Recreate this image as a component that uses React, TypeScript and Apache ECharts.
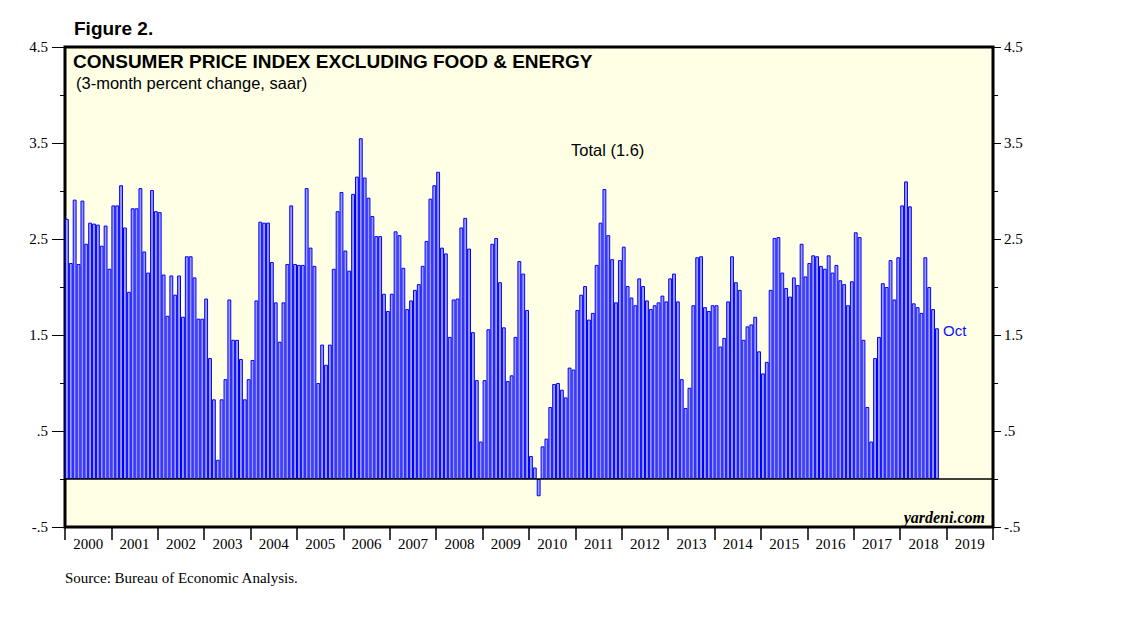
import React, { useEffect, useRef } from "react";
import * as echarts from "echarts";

const years = ["2000","2001","2002","2003","2004","2005","2006","2007","2008","2009","2010","2011","2012","2013","2014","2015","2016","2017","2018","2019"];

const v2000 = [2.71, 2.25, 2.91, 2.24, 2.90, 2.45, 2.67, 2.66, 2.65, 2.43, 2.64, 2.19];
const v2001 = [2.85, 2.85, 3.06, 2.62, 1.95, 2.82, 2.82, 3.03, 2.37, 2.15, 3.01, 2.79];
const v2002 = [2.78, 2.13, 1.70, 2.12, 1.92, 2.12, 1.69, 2.32, 2.32, 2.10, 1.67, 1.67];
const v2003 = [1.88, 1.26, 0.83, 0.20, 0.83, 1.04, 1.87, 1.45, 1.45, 1.25, 0.83, 1.04];
const v2004 = [1.24, 1.86, 2.68, 2.67, 2.67, 2.26, 1.84, 1.43, 1.84, 2.24, 2.85, 2.24];
const v2005 = [2.23, 2.23, 3.03, 2.41, 2.22, 1.00, 1.40, 1.19, 1.40, 2.19, 2.79, 2.99];
const v2006 = [2.38, 2.17, 2.97, 3.15, 3.55, 3.14, 2.93, 2.74, 2.53, 2.53, 1.93, 1.75];
const v2007 = [1.93, 2.58, 2.54, 2.20, 1.77, 1.86, 1.97, 2.03, 2.22, 2.48, 2.92, 3.06];
const v2008 = [3.20, 2.41, 2.35, 1.48, 1.87, 1.88, 2.62, 2.72, 2.40, 1.53, 1.03, 0.39];
const v2009 = [1.03, 1.56, 2.45, 2.51, 2.05, 1.58, 1.02, 1.08, 1.48, 2.27, 2.14, 1.76];
const v2010 = [0.24, 0.12, -0.18, 0.34, 0.42, 0.75, 0.99, 1.00, 0.93, 0.85, 1.16, 1.14];
const v2011 = [1.76, 1.92, 2.01, 1.66, 1.73, 2.23, 2.67, 3.02, 2.54, 2.29, 1.84, 2.28];
const v2012 = [2.42, 2.01, 1.89, 1.81, 2.09, 2.01, 1.86, 1.77, 1.81, 1.84, 1.91, 1.85];
const v2013 = [2.09, 2.14, 1.85, 1.04, 0.74, 0.95, 1.81, 2.31, 2.32, 1.79, 1.75, 1.81];
const v2014 = [1.81, 1.38, 1.47, 1.85, 2.32, 2.05, 1.97, 1.45, 1.59, 1.61, 1.69, 1.33];
const v2015 = [1.10, 1.22, 1.97, 2.51, 2.52, 2.15, 1.99, 1.90, 2.10, 2.02, 2.45, 2.11];
const v2016 = [2.25, 2.33, 2.32, 2.22, 2.19, 2.33, 2.15, 2.23, 2.07, 2.03, 1.81, 2.06];
const v2017 = [2.57, 2.52, 1.45, 0.75, 0.39, 1.26, 1.48, 2.04, 2.00, 2.28, 1.87, 2.31];
const v2018 = [2.85, 3.10, 2.84, 1.83, 1.79, 1.73, 2.31, 2.00, 1.77, 1.57];

const yLabelValues = [-0.5, 0.5, 1.5, 2.5, 3.5, 4.5];

const SANS = "'Liberation Sans', Arial, sans-serif";
const SERIF = "'Liberation Serif', 'Times New Roman', serif";

export default function App() {
  const ref = useRef<HTMLDivElement>(null);
  useEffect(() => {
    if (!ref.current) return;
    const chart = echarts.init(ref.current, undefined, { renderer: "svg" });
    const months: string[] = [];
    years.forEach((y) => {
      for (let m = 1; m <= 12; m++) months.push(y + "-" + m);
    });
    const values = [
      ...v2000, ...v2001, ...v2002, ...v2003, ...v2004, ...v2005, ...v2006,
      ...v2007, ...v2008, ...v2009, ...v2010, ...v2011, ...v2012, ...v2013,
      ...v2014, ...v2015, ...v2016, ...v2017, ...v2018,
    ];
    const fmt = (v: number) => {
      if (Math.abs(v - 0.5) < 1e-6) return ".5";
      if (Math.abs(v + 0.5) < 1e-6) return "-.5";
      return v.toFixed(1);
    };
    const baseY = {
      type: "value" as const,
      min: -0.5,
      max: 4.5,
      interval: 0.5,
      splitLine: { show: false },
      axisLine: { show: false },
    };
    chart.setOption({
      animation: false,
      backgroundColor: "#ffffff",
      grid: {
        left: 65,
        right: 145,
        top: 47,
        bottom: 94,
        show: true,
        backgroundColor: "#FFFFE6",
        borderColor: "#000000",
        borderWidth: 3,
        z: 0,
      },
      xAxis: [
        {
          type: "category",
          data: months,
          show: false,
          boundaryGap: true,
        },
        {
          type: "category",
          data: years,
          position: "bottom",
          boundaryGap: true,
          axisLine: { show: false, onZero: false },
          axisTick: { show: true, length: 13, lineStyle: { color: "#000", width: 1.5 }, interval: 0 },
          axisLabel: {
            interval: 0,
            margin: 9,
            color: "#000",
            fontFamily: SERIF,
            fontSize: 15,
          },
          splitLine: { show: false },
        },
      ],
      yAxis: [
        {
          ...baseY,
          position: "left",
          axisTick: { show: true, length: 5, lineStyle: { color: "#000", width: 1 } },
          axisLabel: { show: false },
        },
        {
          ...baseY,
          position: "left",
          axisTick: { show: true, length: 13, customValues: yLabelValues, lineStyle: { color: "#000", width: 1 } },
          axisLabel: {
            show: true,
            customValues: yLabelValues,
            formatter: fmt,
            margin: 17,
            color: "#000",
            fontFamily: SERIF,
            fontSize: 15,
          },
        },
        {
          ...baseY,
          position: "right",
          axisTick: { show: true, length: 5, lineStyle: { color: "#000", width: 1 } },
          axisLabel: { show: false },
        },
        {
          ...baseY,
          position: "right",
          axisTick: { show: true, length: 8, customValues: yLabelValues, lineStyle: { color: "#000", width: 1 } },
          axisLabel: {
            show: true,
            customValues: yLabelValues,
            formatter: fmt,
            margin: 11,
            color: "#000",
            fontFamily: SERIF,
            fontSize: 15,
          },
        },
      ],
      series: [
        {
          type: "bar",
          xAxisIndex: 0,
          yAxisIndex: 0,
          data: values,
          barCategoryGap: "0%",
          itemStyle: { color: "#9C9CFF", borderColor: "#0000FF", borderWidth: 1 },
          markLine: {
            silent: true,
            symbol: "none",
            label: { show: false },
            lineStyle: { color: "#000", width: 1.5, type: "solid" },
            data: [{ yAxis: 0 }],
          },
        },
      ],
      graphic: [
        {
          type: "text",
          x: 74,
          y: 28,
          style: { text: "Figure 2.", fontFamily: SANS, fontWeight: "bold", fontSize: 19, fill: "#000", textAlign: "left", textVerticalAlign: "middle" },
        },
        {
          type: "text",
          x: 73,
          y: 61,
          style: { text: "CONSUMER PRICE INDEX EXCLUDING FOOD & ENERGY", fontFamily: SANS, fontWeight: "bold", fontSize: 19, fill: "#000", textAlign: "left", textVerticalAlign: "middle" },
        },
        {
          type: "text",
          x: 76,
          y: 83,
          style: { text: "(3-month percent change, saar)", fontFamily: SANS, fontSize: 16.5, fill: "#000", textAlign: "left", textVerticalAlign: "middle" },
        },
        {
          type: "text",
          x: 571,
          y: 150,
          style: { text: "Total (1.6)", fontFamily: SANS, fontSize: 16.5, fill: "#000", textAlign: "left", textVerticalAlign: "middle" },
        },
        {
          type: "text",
          x: 943,
          y: 330,
          style: { text: "Oct", fontFamily: SANS, fontSize: 15, fill: "#1010FF", textAlign: "left", textVerticalAlign: "middle" },
        },
        {
          type: "text",
          x: 985,
          y: 517,
          style: { text: "yardeni.com", fontFamily: SERIF, fontWeight: "bold", fontStyle: "italic", fontSize: 16, fill: "#000", textAlign: "right", textVerticalAlign: "middle" },
        },
        {
          type: "text",
          x: 65,
          y: 578,
          style: { text: "Source: Bureau of Economic Analysis.", fontFamily: SERIF, fontSize: 15, fill: "#000", textAlign: "left", textVerticalAlign: "middle" },
        },
      ],
    });
    return () => chart.dispose();
  }, []);
  return (
    <div
      ref={ref}
      style={{ position: "fixed", left: 0, top: 0, width: 1138, height: 621 }}
    />
  );
}
